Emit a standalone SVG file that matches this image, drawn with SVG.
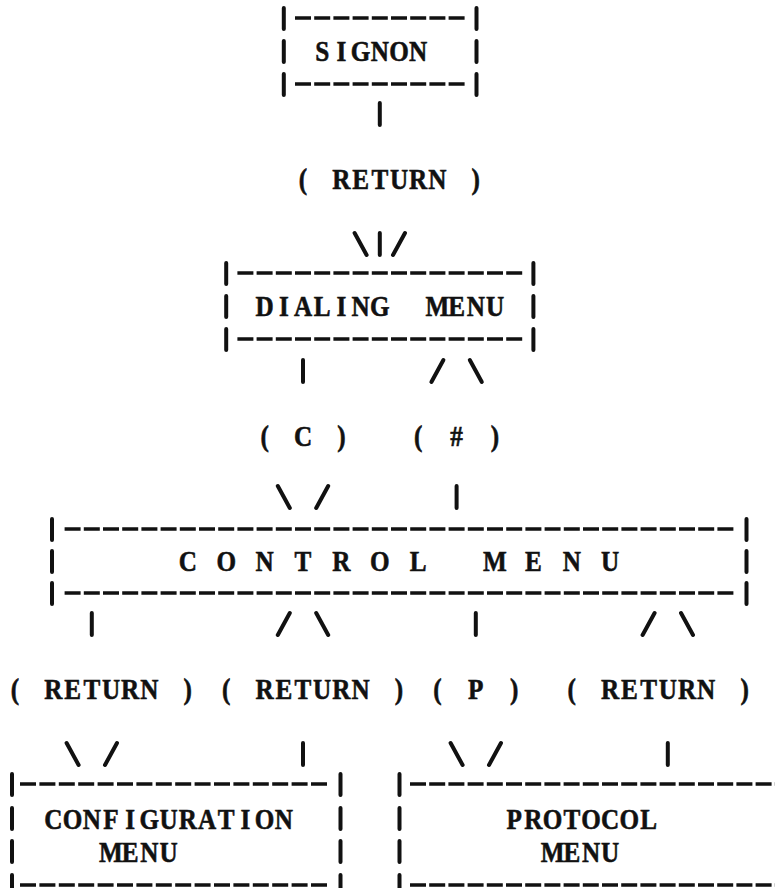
<svg xmlns="http://www.w3.org/2000/svg" width="775" height="888" viewBox="0 0 775 888">
<style>
.t{font-family:"Liberation Serif","Times New Roman",serif;font-weight:bold;font-size:30px;fill:#111;stroke:#111;stroke-width:0.6;text-anchor:middle;white-space:pre}
.bar{stroke:#111;stroke-width:4;fill:none;stroke-linecap:round}
.dash{stroke:#111;stroke-width:3.4;fill:none;stroke-dasharray:16 3.2}
</style>
<rect width="775" height="888" fill="#ffffff"/>
<g id="signon">
<path class="bar" d="M283.8 8V29M283.8 41V62M283.8 74V95M476.5 8V29M476.5 41V62M476.5 74V95"/>
<path class="dash" d="M295 18H464.6M295 84H464.6"/>
<text class="t" transform="scale(0.84 1)" x="383.57 406.43 429.29 452.14 475 497.86" y="61">SIGNON</text>
</g>
<g id="dialing-menu">
<path class="bar" d="M226.2 263V284M226.2 296V317M226.2 329V350M533.4 263V284M533.4 296V317M533.4 329V350"/>
<path class="dash" d="M237.4 273H522.2M237.4 339H522.2"/>
<text class="t" xml:space="preserve" transform="scale(0.84 1)" x="315 337.86 360.71 383.57 406.43 429.29 452.14 475 497.86 520.71 543.57 566.43 589.29" y="316">DIALING  MENU</text>
</g>
<g id="control-menu">
<path class="bar" d="M52 519V540M52 551V572M52 583V604M746.5 519V540M746.5 551V572M746.5 583V604"/>
<path class="dash" d="M64.6 529H733.4M64.6 593H733.4"/>
<text class="t" xml:space="preserve" transform="scale(0.84 1)" x="223.57 246.43 269.29 292.14 315 337.86 360.71 383.57 406.43 429.29 452.14 475 497.86 520.71 543.57 566.43 589.29 612.14 635 657.86 680.71 703.57 726.43" y="571">C O N T R O L   M E N U</text>
</g>
<g id="configuration-menu">
<path class="bar" d="M12 774V795M12 808V829M12 841V862M12 875V896M340.5 774V795M340.5 808V829M340.5 841V862M340.5 875V896"/>
<path class="dash" d="M20 784H329M20 885H329" style="stroke-dasharray:16 3.4"/>
<text class="t" transform="scale(0.84 1)" x="63.57 86.43 109.29 132.14 155 177.86 200.71 223.57 246.43 269.29 292.14 315 337.86" y="829">CONFIGURATION</text>
<text class="t" transform="scale(0.84 1)" x="132.14 155 177.86 200.71" y="862">MENU</text>
</g>
<g id="protocol-menu">
<path class="bar" d="M399.5 774V795M399.5 808V829M399.5 841V862M399.5 875V896"/>
<path class="dash" d="M410 784H780M410 885H780"/>
<text class="t" transform="scale(0.84 1)" x="612.14 635 657.86 680.71 703.57 726.43 749.29 772.14" y="829">PROTOCOL</text>
<text class="t" transform="scale(0.84 1)" x="657.86 680.71 703.57 726.43" y="862">MENU</text>
</g>
<g id="connectors">
<path class="bar" d="M379.8 103V125"/>
<text class="t" xml:space="preserve" transform="scale(0.84 1)" x="360.71 383.57 406.43 429.29 452.14 475 497.86 520.71 543.57 566.43" y="189">( RETURN )</text>
<path class="bar" d="M354.6 233L366.6 255M379.8 233V255M405 233L393 255"/>
<path class="bar" d="M303 360V382M443.4 360L431.4 382M469.8 360L481.8 382"/>
<text class="t" xml:space="preserve" transform="scale(0.84 1)" x="315 337.86 360.71 383.57 406.43" y="446">( C )</text>
<text class="t" xml:space="preserve" transform="scale(0.84 1)" x="497.86 520.71 543.57 566.43 589.29" y="446">( # )</text>
<path class="bar" d="M277.8 486L289.8 508M328.2 486L316.2 508M456.6 486V508"/>
<path class="bar" d="M91.8 613V635M289.8 613L277.8 635M316.2 613L328.2 635M475.8 613V635M654.6 613L642.6 635M681 613L693 635"/>
<text class="t" xml:space="preserve" transform="scale(0.84 1)" x="17.86 40.71 63.57 86.43 109.29 132.14 155 177.86 200.71 223.57" y="699">( RETURN )</text>
<text class="t" xml:space="preserve" transform="scale(0.84 1)" x="269.29 292.14 315 337.86 360.71 383.57 406.43 429.29 452.14 475" y="699">( RETURN )</text>
<text class="t" xml:space="preserve" transform="scale(0.84 1)" x="520.71 543.57 566.43 589.29 612.14" y="699">( P )</text>
<text class="t" xml:space="preserve" transform="scale(0.84 1)" x="680.71 703.57 726.43 749.29 772.14 795 817.86 840.71 863.57 886.43" y="699">( RETURN )</text>
<path class="bar" d="M66.6 743L78.6 765M117 743L105 765M303 743V765M450.6 743L462.6 765M501 743L489 765M667.8 743V765"/>
</g>
</svg>
